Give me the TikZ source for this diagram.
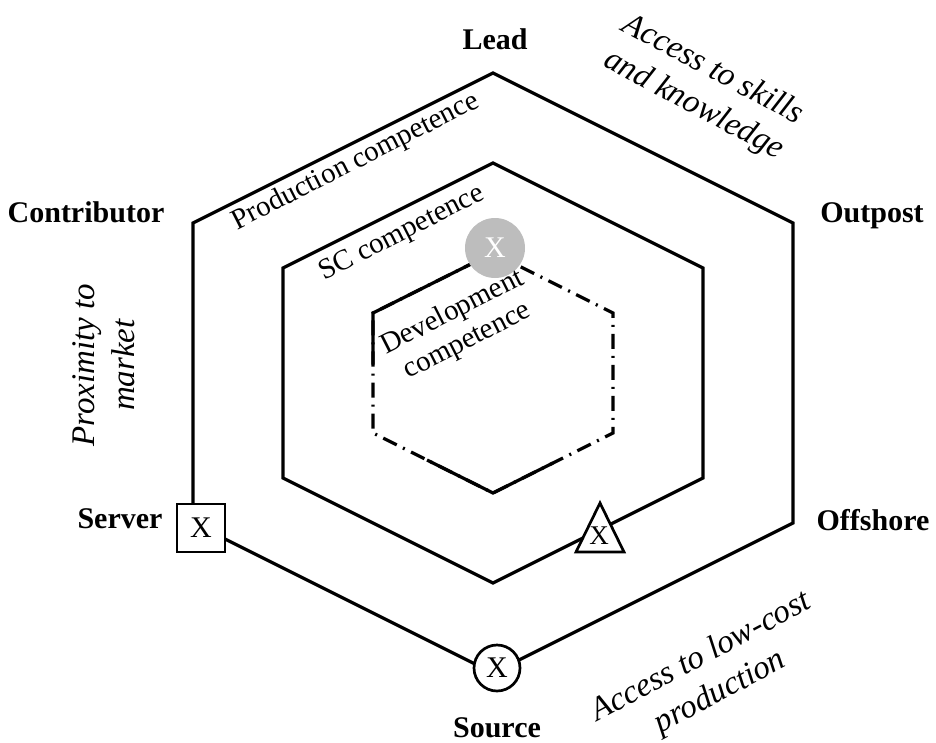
\documentclass[tikz,border=0pt]{standalone}
\usepackage{fontspec}
\setmainfont{Liberation Serif}
\usetikzlibrary{calc}
\begin{document}
\begin{tikzpicture}[x=1pt,y=-1pt,
  hexline/.style={line width=3.3pt, line join=miter},
  dashdot/.style={line width=3.3pt, dash pattern=on 15pt off 7pt on 2pt off 7pt},
  lbl/.style={font=\fontsize{30}{36}\selectfont\bfseries, anchor=base, inner sep=0pt},
  ring/.style={font=\fontsize{29}{32}\selectfont, align=center, inner sep=0pt},
  note/.style={font=\fontsize{33}{40}\selectfont\itshape, align=center, inner sep=0pt},
  marker/.style={draw, line width=2.7pt, fill=white, font=\fontsize{30}{36}\selectfont, inner sep=0pt},
  focus/.style={circle, fill=black!26, text=white, minimum size=60pt, inner sep=0pt, font=\fontsize{30}{36}\selectfont}
]
\useasboundingbox (0,0) rectangle (936,742);

% outer hexagon: production competence
\coordinate (o1) at (493,73);  \coordinate (o2) at (793,223);
\coordinate (o3) at (793,523); \coordinate (o4) at (493,673);
\coordinate (o5) at (193,523); \coordinate (o6) at (193,223);
% middle hexagon: SC competence
\coordinate (m1) at (493,163); \coordinate (m2) at (703,268);
\coordinate (m3) at (703,478); \coordinate (m4) at (493,583);
\coordinate (m5) at (283,478); \coordinate (m6) at (283,268);
% inner hexagon: development competence
\coordinate (i1) at (493,253); \coordinate (i2) at (613,313);
\coordinate (i3) at (613,433); \coordinate (i4) at (493,493);
\coordinate (i5) at (373,433); \coordinate (i6) at (373,313);

\draw[hexline] (o1) -- (o2) -- (o3) -- (o4) -- (o5) -- (o6) -- cycle;
\draw[hexline] (m1) -- (m2) -- (m3) -- (m4) -- (m5) -- (m6) -- cycle;
\draw[dashdot] (i1) -- (i2) -- (i3) -- (i4) -- (i5) -- (i6) -- cycle;
\draw[hexline] ($(i6)!0.43!(i5)$) -- (i6) -- (i1);
\draw[hexline] ($(i5)!0.45!(i4)$) -- (i4) -- ($(i4)!0.5!(i3)$);

% role markers
\node[focus] (lead-mark) at (495,248) {X};
\node[marker, minimum size=48pt] (server-mark) at (201,528) {X};
\node[marker, circle, minimum size=46pt] (source-mark) at (497,668) {X};
\draw[line width=2.7pt, fill=white, line join=miter] (600,503) -- (624,552) -- (576,552) -- cycle;
\node[font=\fontsize{27}{32}\selectfont, inner sep=0pt] (offshore-mark) at (599,536) {X};

% site roles
\node[lbl] (lead) at (495,49) {Lead};
\node[lbl] (contrib) at (86,222) {Contributor};
\node[lbl] (outpost) at (872,222) {Outpost};
\node[lbl] (server) at (120,528) {Server};
\node[lbl] (offshore) at (873,530) {Offshore};
\node[lbl] (source) at (497,737) {Source};

% competence rings
\node[ring, rotate=27] (prod) at (356,162) {Production competence};
\node[ring, rotate=27] (sc) at (402,234) {SC competence};
\node[ring, rotate=27] (dev) at (460,327) {Development\\competence};

% strategic reasons
\node[note, rotate=90] (prox) at (104,365) {Proximity to\\market};
\node[note, rotate=-28] (skills) at (703,88) {Access to skills\\and knowledge};
\node[note, rotate=28] (lowcost) at (711,675) {Access to low-cost\\production};
\end{tikzpicture}
\end{document}
